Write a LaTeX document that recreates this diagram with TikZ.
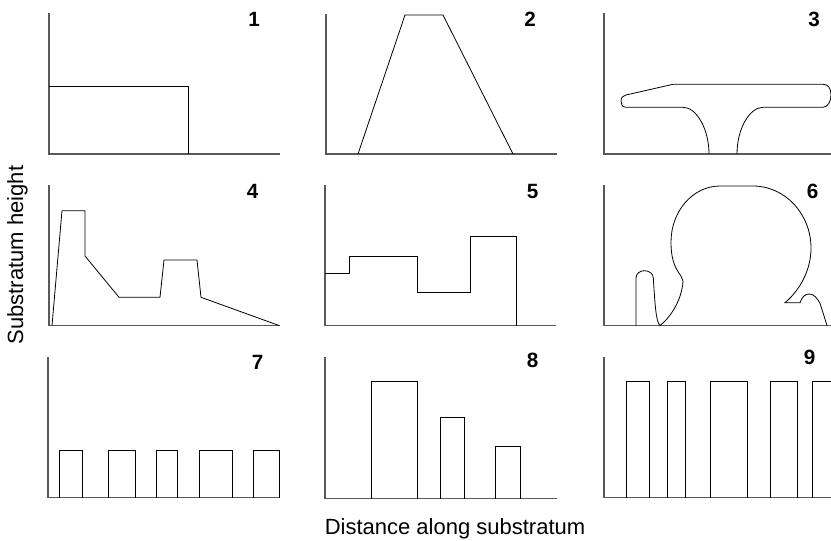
\documentclass[tikz,border=0pt]{standalone}
\usepackage{fontspec}
\setmainfont{Liberation Sans}
\begin{document}
\begin{tikzpicture}[x=0.75pt,y=-0.75pt,
  axis/.style={draw=black!65, line width=0.8pt},
  prof/.style={draw=black, line width=0.6pt, line join=miter},
  num/.style={font=\fontsize{15.5}{18}\selectfont\bfseries, inner sep=0pt},
  title/.style={font=\fontsize{16.5}{19}\selectfont, inner sep=0pt}]
\useasboundingbox (0,0) rectangle (831,541);

% axes
\draw[axis] (49,13) |- (280,154);
\draw[axis] (326,14) |- (557,154);
\draw[axis] (604,13) |- (831,154);
\draw[axis] (49,185) |- (280,325.7);
\draw[axis] (325,185) |- (556,325.7);
\draw[axis] (604,185) |- (831,325.7);
\draw[axis] (48,357) |- (279,497.7);
\draw[axis] (325,357) |- (556.7,498.5);
\draw[axis] (604,357) |- (831,497.7);

% panel 1
\draw[prof] (49,86) -- (188.7,86) -- (188.7,154);
% panel 2
\draw[prof] (358,154) -- (405,15) -- (443,15) -- (513,154);
% panel 3
\draw[prof] (709,154) .. controls (709,130) and (697,107.3) .. (683,107.3)
  -- (626,107.3) .. controls (622,107.3) and (621,104) .. (621,101)
  .. controls (621,97.5) and (623,95.6) .. (626,95) -- (673,84.3) -- (823,84.3)
  .. controls (828,84.3) and (831,88) .. (831,95)
  .. controls (831,101) and (828,107.3) .. (823,107.3) -- (763,107.3)
  .. controls (750,107.3) and (737,128) .. (737,154);
% panel 4
\draw[prof] (52,325.5) -- (62,210.7) -- (85,210.7) -- (85,256) -- (119,297.3)
  -- (160,297.3) -- (164,260) -- (197,260) -- (201,297.3) -- (279,325.5);
% panel 5
\draw[prof] (325,273.3) -- (349,273.3) -- (349,256) -- (417.7,256) -- (417.7,292.7)
  -- (470,292.7) -- (470,236.7) -- (516,236.7) -- (516,325.7);
% panel 6
\draw[prof] (636,325.7) -- (636,278) .. controls (636,273.5) and (640,270.7) .. (644.5,270.7)
  .. controls (649,270.7) and (653.3,273.5) .. (653.3,278)
  .. controls (655,305) and (656,322) .. (660,325.5)
  .. controls (670,318) and (682,300) .. (683,281) -- (681,276)
  .. controls (673,266) and (671,255) .. (671,242)
  .. controls (671,211) and (693,186) .. (720,186) -- (753,186)
  .. controls (785,186) and (811,214) .. (811,248)
  .. controls (811,270) and (800,290) .. (785,302.7) -- (800,302.7)
  .. controls (802,297) and (805,294) .. (809,294)
  .. controls (814,294) and (817,298) .. (820,303.3) -- (827,325.5);
% panel 7
\foreach \a/\b in {59/82.7,108.3/135,156/177.3,199.3/232.7,253.3/279.3}
  \draw[prof] (\a,497.7) -- (\a,450.7) -- (\b,450.7) -- (\b,497.7);
% panel 8
\foreach \a/\b/\t in {371/417.3/381,440.7/464.3/417.7,495.7/520/446.7}
  \draw[prof] (\a,498.5) -- (\a,\t) -- (\b,\t) -- (\b,498.5);
% panel 9
\foreach \a/\b in {626/649.3,667.3/685.7,710/747.3,770.7/797.3}
  \draw[prof] (\a,497.7) -- (\a,381.7) -- (\b,381.7) -- (\b,497.7);
\draw[prof] (812.7,497.7) -- (812.7,381.7) -- (831,381.7);

% labels
\node[num] (n1) at (254,19.5) {1};
\node[num] (n2) at (530,19.5) {2};
\node[num] (n3) at (814,19.5) {3};
\node[num] (n4) at (252.5,191.5) {4};
\node[num] (n5) at (532.5,191.5) {5};
\node[num] (n6) at (812.5,191.5) {6};
\node[num] (n7) at (257.5,362.5) {7};
\node[num] (n8) at (532.5,360.7) {8};
\node[num] (n9) at (809.5,357.5) {9};

\node[title, rotate=90] (ylab) at (17.5,255) {Substratum height};
\node[title] (xlab) at (455,529) {Distance along substratum};
\end{tikzpicture}
\end{document}
